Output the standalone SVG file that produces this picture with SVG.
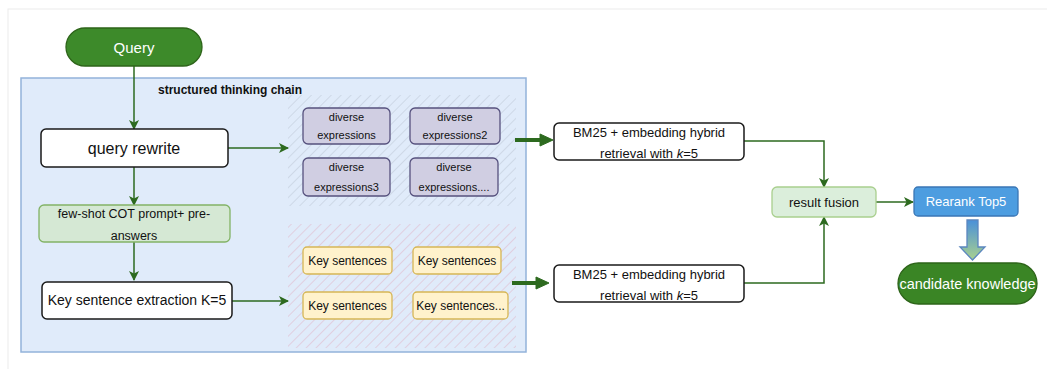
<svg xmlns="http://www.w3.org/2000/svg" width="1047" height="369" viewBox="0 0 1047 369">
<defs>
<style>
text{font-family:"Liberation Sans","Noto Sans",sans-serif;fill:#111;text-anchor:middle}
.w{fill:#fff}
.box{fill:#fff;stroke:#1a1a1a;stroke-width:1.5}
.div{fill:#d0cee2;stroke:#56517e;stroke-width:1.3}
.key{fill:#fff2cc;stroke:#d6b656;stroke-width:1.3}
.lg{fill:#d5e8d4;stroke:#82b366;stroke-width:1.3}
.ln{fill:none;stroke:#2d6a1f;stroke-width:1.5}
.thick{fill:none;stroke:#2d6a1f;stroke-width:4}
</style>
<marker id="ah" viewBox="0 0 10 10" refX="9" refY="5" markerWidth="10" markerHeight="10" markerUnits="userSpaceOnUse" orient="auto">
<path d="M0,0 L10,5 L0,10 L2.5,5 Z" fill="#2d6a1f"/>
</marker>
<pattern id="hg" width="7" height="7" patternUnits="userSpaceOnUse" patternTransform="rotate(45)">
<line x1="0" y1="0" x2="0" y2="7" stroke="#bcc6d3" stroke-width="1"/>
</pattern>
<pattern id="hp" width="7" height="7" patternUnits="userSpaceOnUse" patternTransform="rotate(45)">
<line x1="0" y1="0" x2="0" y2="7" stroke="#dfb3c5" stroke-width="1"/>
</pattern>
<linearGradient id="bg" x1="0" y1="0" x2="0" y2="1">
<stop offset="0" stop-color="#4a90d9"/>
<stop offset="1" stop-color="#a9d18e"/>
</linearGradient>
</defs>
<rect x="0" y="0" width="1047" height="369" fill="#fff"/>
<rect x="8" y="9" width="1050" height="370" fill="none" stroke="#ececec" stroke-width="1"/>

<g id="container">
<rect x="21" y="78" width="505" height="274" fill="#e0ebfa" stroke="#93b3da" stroke-width="1.5"/>
<text x="230" y="94" style="font-size:12px;font-weight:bold">structured thinking chain</text>
</g>
<g id="hatch-top"><rect x="288" y="95" width="228" height="111" fill="url(#hg)"/></g>
<g id="hatch-bottom"><rect x="288" y="224" width="228" height="124" fill="url(#hp)"/></g>

<g id="connectors">
<line class="ln" x1="134" y1="66" x2="134" y2="129" marker-end="url(#ah)"/>
<line class="ln" x1="228" y1="148" x2="288" y2="148" marker-end="url(#ah)"/>
<line class="ln" x1="134" y1="167" x2="134" y2="205" marker-end="url(#ah)"/>
<line class="ln" x1="134" y1="242" x2="134" y2="280" marker-end="url(#ah)"/>
<line class="ln" x1="232" y1="301" x2="288" y2="301" marker-end="url(#ah)"/>
<line class="thick" x1="515" y1="140" x2="542" y2="140"/>
<path d="M540,134 L553,140 L540,146 Z" fill="#2d6a1f" stroke="#2d6a1f" stroke-width="1"/>
<line class="thick" x1="512" y1="283" x2="538" y2="283"/>
<path d="M536,277 L549,283 L536,289 Z" fill="#2d6a1f" stroke="#2d6a1f" stroke-width="1"/>
<polyline class="ln" points="744,141 824,141 824,187" marker-end="url(#ah)"/>
<polyline class="ln" points="744,283 824,283 824,217" marker-end="url(#ah)"/>
<line class="ln" x1="876" y1="202" x2="913" y2="202" marker-end="url(#ah)"/>
<path d="M967,220 L978,220 L978,247 L985,247 L972.5,260 L960,247 L967,247 Z" fill="url(#bg)" stroke="#5b86bf" stroke-width="1.3"/>
</g>

<g id="query">
<rect x="66" y="28" width="136" height="38" rx="19" fill="#3d8a2a" stroke="#2d6419" stroke-width="1.3"/>
<text class="w" x="134" y="53" style="font-size:15px">Query</text>
</g>
<g id="query-rewrite">
<rect class="box" x="41" y="129" width="187" height="38" rx="5"/>
<text x="134" y="154" style="font-size:16px">query rewrite</text>
</g>
<g id="few-shot">
<rect class="lg" x="39" y="205" width="191" height="37" rx="5"/>
<text x="134" y="218" style="font-size:12.5px">few-shot COT prompt+ pre-</text>
<text x="134" y="240" style="font-size:12.5px">answers</text>
</g>
<g id="key-extraction">
<rect class="box" x="42" y="282" width="190" height="37" rx="5"/>
<text x="137" y="305" style="font-size:14px">Key sentence extraction K=5</text>
</g>

<g id="div1"><rect class="div" x="303" y="108" width="87" height="36" rx="5"/>
<text x="346.5" y="121" style="font-size:11px">diverse</text><text x="346.5" y="139" style="font-size:11px">expressions</text></g>
<g id="div2"><rect class="div" x="410" y="108" width="90" height="36" rx="5"/>
<text x="455" y="121" style="font-size:11px">diverse</text><text x="455" y="139" style="font-size:11px">expressions2</text></g>
<g id="div3"><rect class="div" x="303" y="158" width="87" height="38" rx="5"/>
<text x="346.5" y="171" style="font-size:11px">diverse</text><text x="346.5" y="191" style="font-size:11px">expressions3</text></g>
<g id="div4"><rect class="div" x="410" y="158" width="88" height="38" rx="5"/>
<text x="454" y="171" style="font-size:11px">diverse</text><text x="454" y="191" style="font-size:11px">expressions....</text></g>

<g id="key1"><rect class="key" x="303" y="247" width="89" height="27" rx="4"/>
<text x="347.5" y="265" style="font-size:12px">Key sentences</text></g>
<g id="key2"><rect class="key" x="413" y="247" width="88" height="27" rx="4"/>
<text x="457" y="265" style="font-size:12px">Key sentences</text></g>
<g id="key3"><rect class="key" x="303" y="292" width="89" height="27" rx="4"/>
<text x="347.5" y="310" style="font-size:12px">Key sentences</text></g>
<g id="key4"><rect class="key" x="413" y="292" width="95" height="27" rx="4"/>
<text x="460.5" y="310" style="font-size:12px">Key sentences...</text></g>

<g id="bm25-top">
<rect class="box" x="554" y="123" width="190" height="37" rx="5"/>
<text x="649" y="137" style="font-size:13px">BM25 + embedding hybrid</text>
<text x="649" y="158" style="font-size:13px">retrieval with <tspan font-style="italic">k</tspan>=5</text>
</g>
<g id="bm25-bottom">
<rect class="box" x="554" y="265" width="190" height="37" rx="5"/>
<text x="649" y="279" style="font-size:13px">BM25 + embedding hybrid</text>
<text x="649" y="300" style="font-size:13px">retrieval with <tspan font-style="italic">k</tspan>=5</text>
</g>
<g id="result-fusion">
<rect x="772" y="187" width="104" height="30" rx="5" fill="#dbeedb" stroke="#a9cf8e" stroke-width="1.3"/>
<text x="824" y="207" style="font-size:13px">result fusion</text>
</g>
<g id="rerank">
<rect x="914" y="187" width="104" height="29" rx="4" fill="#4d9de0" stroke="#3a76b5" stroke-width="1.3"/>
<text class="w" x="966" y="206" style="font-size:13px">Rearank Top5</text>
</g>
<g id="candidate">
<rect x="898" y="263" width="139" height="41" rx="20.5" fill="#3a8525" stroke="#2d6419" stroke-width="1.3"/>
<text class="w" x="967.5" y="289" style="font-size:14.5px">candidate knowledge</text>
</g>
</svg>
